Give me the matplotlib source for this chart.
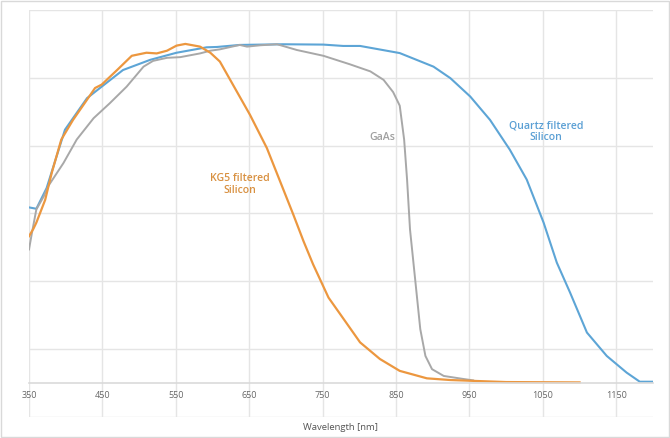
import matplotlib.pyplot as plt
from matplotlib.patches import Rectangle

# wavelength [nm] / relative response
quartz_x = [350, 360, 374, 399, 429, 449, 478, 515, 551, 592, 606, 637, 696,
            751, 778, 801, 855, 901, 924, 951, 978, 1005, 1028, 1051, 1069,
            1087, 1110, 1137, 1164, 1182, 1200]
quartz_y = [51.8, 51.4, 57.5, 74.7, 84.0, 87.4, 92.3, 95.3, 97.4, 99.0, 99.1,
            99.7, 99.9, 99.8, 99.4, 99.4, 97.3, 93.3, 89.9, 84.5, 77.6, 68.8,
            60.0, 47.3, 35.5, 26.7, 14.9, 8.0, 3.1, 0.4, 0.4]

kg5_x = [350, 356, 360, 372, 381, 394, 410, 426, 440, 449, 470, 490, 510, 524,
         538, 551, 563, 583, 597, 610, 628, 651, 674, 692, 710, 724, 737, 758,
         774, 801, 828, 855, 892, 924, 1000, 1100]
kg5_y = [43.3, 45.5, 47.3, 54.0, 62.0, 71.8, 77.6, 82.6, 87.0, 88.0, 92.3,
         96.5, 97.4, 97.2, 98.0, 99.5, 100.0, 99.2, 97.4, 94.8, 87.9, 79.1,
         69.3, 59.5, 49.7, 41.8, 35.0, 25.2, 20.3, 12.0, 7.1, 3.6, 1.4, 0.9,
         0.3, 0.2]

gaas_x = [350, 354, 360, 370, 376, 397, 415, 438, 460, 483, 506, 519, 538, 556,
          583, 597, 610, 637, 647, 665, 688, 715, 751, 787, 815, 833, 846, 855,
          861, 865, 869, 876, 883, 890, 899, 915, 942, 955]
gaas_y = [39.4, 44.3, 51.2, 55.0, 58.0, 64.9, 71.8, 78.1, 82.5, 87.4, 93.3,
          95.0, 95.9, 96.1, 97.2, 98.0, 98.4, 99.7, 99.2, 99.6, 99.9, 98.2,
          96.5, 94.0, 91.9, 89.4, 85.8, 81.8, 71.8, 60.0, 45.3, 30.6, 15.9,
          8.0, 4.1, 2.1, 1.2, 0.8]

xticks = [350, 450, 550, 650, 750, 850, 950, 1050, 1150]
grid_y = [-10, 10, 30, 50, 70, 90, 110]

c_quartz = '#5DA5D6'
c_kg5 = '#EC973F'
c_gaas = '#A8A8A8'

plt.rcParams['font.family'] = ['Open Sans', 'DejaVu Sans']

fig = plt.figure(figsize=(6.7, 4.38), dpi=100)
ax = fig.add_axes([29 / 670, 21 / 438, 624 / 670, 407 / 438])

ax.plot(quartz_x, quartz_y, c=c_quartz, lw=1.5, solid_joinstyle='round')
ax.plot(gaas_x, gaas_y, c=c_gaas, lw=1.4, solid_joinstyle='round')
ax.plot(kg5_x, kg5_y, c=c_kg5, lw=1.6, solid_joinstyle='round')

ax.set_xlim(350, 1200)
ax.set_ylim(-10, 110)
ax.set_xticks(xticks)
ax.set_yticks(grid_y)
ax.set_yticklabels([])
ax.grid(True, color='#E5E5E5', lw=1)
ax.set_axisbelow(True)
for s in ['top', 'right', 'left']:
    ax.spines[s].set_visible(False)
ax.spines['bottom'].set_position(('data', 0))
ax.spines['bottom'].set_color('#DADADA')
ax.spines['bottom'].set_linewidth(1.2)
ax.tick_params(axis='both', length=0)
ax.tick_params(axis='x', labelsize=6.5, labelcolor='#666666', pad=6)

ax.text(0.5, -0.025, 'Wavelength [nm]', transform=ax.transAxes,
        ha='center', va='center', fontsize=6.8, color='#555555')

ax.text(637, 58.5, 'KG5 filtered\nSilicon', ha='center', va='center',
        fontsize=7.6, fontweight='semibold', color='#D89040', linespacing=1.05)
ax.text(831, 72.5, 'GaAs', ha='center', va='center',
        fontsize=7.6, fontweight='semibold', color='#A0A0A0')
ax.text(1054, 74, 'Quartz filtered\nSilicon', ha='center', va='center',
        fontsize=7.6, fontweight='semibold', color='#5A9FD4', linespacing=1.05)

fig.patches.append(Rectangle((0.002, 0.003), 0.996, 0.994, transform=fig.transFigure,
                             fill=False, edgecolor='#D9D9D9', lw=1))

plt.savefig('out.png', dpi=100)
